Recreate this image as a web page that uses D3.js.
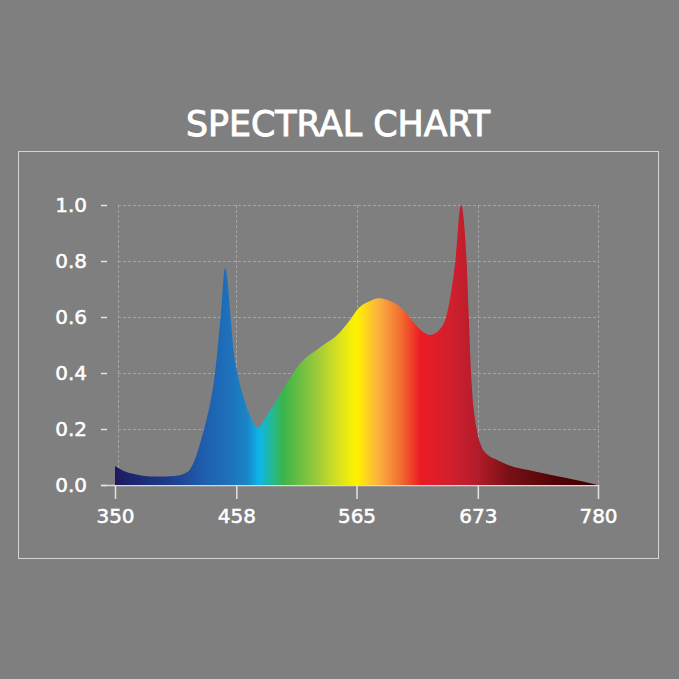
<!DOCTYPE html>
<html>
<head>
<meta charset="utf-8">
<script src="https://cdn.jsdelivr.net/npm/d3@7"></script>
<style>
  html, body { margin: 0; padding: 0; background: #807f7f; }
  svg { display: block; }
</style>
</head>
<body>
<div id="chart"></div>
<script>
// spectrum (nm, relative intensity)
const wavelengths = [350, 359, 371, 386, 403, 415, 421, 428, 431, 439, 444, 448, 453, 455, 459, 464, 470, 477,
  487, 502, 514, 532, 549, 558, 567, 576, 585, 596, 605, 614, 622, 631, 641, 646, 653, 658, 663, 665, 667,
  672, 676, 682, 690, 700, 724, 753, 780];
const intensity = [0.068, 0.048, 0.036, 0.030, 0.032, 0.048, 0.09, 0.18, 0.226, 0.40, 0.60, 0.775, 0.60, 0.50,
  0.40, 0.32, 0.25, 0.205, 0.26, 0.357, 0.43, 0.49, 0.54, 0.583, 0.632, 0.655, 0.667, 0.655, 0.632, 0.59,
  0.554, 0.536, 0.565, 0.62, 0.80, 1.0, 0.80, 0.60, 0.40, 0.20, 0.14, 0.107, 0.09, 0.071, 0.048, 0.024, 0];

const xTicks = [350, 458, 565, 673, 780];
const yTicks = [0, 0.2, 0.4, 0.6, 0.8, 1.0];
const title = 'SPECTRAL CHART';

// colour of the fill along the wavelength axis
const gradientStops = [
  [350, '#1c1a60'], [400, '#1d3f8e'], [430, '#1e5fae'], [455, '#1d74bd'], [468, '#1a86c8'],
  [478, '#0db6ec'], [488, '#20b8a0'], [500, '#3bb54a'], [525, '#8cc63f'], [548, '#d7e021'],
  [565, '#fff200'], [585, '#fbb040'], [605, '#f26b30'], [622, '#ec1c24'], [650, '#d01f2e'],
  [672, '#b41c2b'], [700, '#7a1015'], [740, '#520508'], [780, '#3a0000']
];

const width = 679;
const height = 679;
const plot = { left: 115, right: 598, top: 205, bottom: 485 };

const svg = d3.select('#chart')
  .append('svg')
  .attr('width', width)
  .attr('height', height);

svg.append('rect')
  .attr('width', width)
  .attr('height', height)
  .attr('fill', '#807f7f');

// frame
svg.append('rect')
  .attr('x', 18.5)
  .attr('y', 151.5)
  .attr('width', 640)
  .attr('height', 407)
  .attr('fill', 'none')
  .attr('stroke', '#d4d4d4')
  .attr('stroke-width', 1);

svg.append('text')
  .attr('x', 338)
  .attr('y', 136)
  .attr('text-anchor', 'middle')
  .attr('fill', '#ffffff')
  .attr('stroke', '#ffffff')
  .attr('stroke-width', 0.9)
  .attr('font-family', '"DejaVu Sans Condensed", "Liberation Sans Narrow", sans-serif')
  .attr('font-size', 36)
  .attr('textLength', 304)
  .attr('lengthAdjust', 'spacingAndGlyphs')
  .text(title);

const x = d3.scaleLinear([350, 780], [plot.left, plot.right]);
const y = d3.scaleLinear([0, 1], [plot.bottom, plot.top]);

// gridlines
const grid = svg.append('g')
  .attr('stroke', '#a5a5a5')
  .attr('stroke-width', 1)
  .attr('stroke-dasharray', '3,2');

grid.selectAll('line.h')
  .data(yTicks.filter((d) => d > 0))
  .join('line')
  .attr('class', 'h')
  .attr('x1', plot.left + 3)
  .attr('x2', plot.right + 1)
  .attr('y1', (d) => Math.round(y(d)) + 0.5)
  .attr('y2', (d) => Math.round(y(d)) + 0.5);

grid.selectAll('line.v')
  .data(xTicks)
  .join('line')
  .attr('class', 'v')
  .attr('x1', (d) => Math.round(x(d)) + 0.5 + (d === 350 ? 3 : 0))
  .attr('x2', (d) => Math.round(x(d)) + 0.5 + (d === 350 ? 3 : 0))
  .attr('y1', plot.top)
  .attr('y2', plot.bottom);

// gradient
const defs = svg.append('defs');
const grad = defs.append('linearGradient')
  .attr('id', 'spectrum')
  .attr('gradientUnits', 'userSpaceOnUse')
  .attr('x1', x(350))
  .attr('x2', x(780))
  .attr('y1', 0)
  .attr('y2', 0);

grad.selectAll('stop')
  .data(gradientStops)
  .join('stop')
  .attr('offset', (d) => (d[0] - 350) / (780 - 350))
  .attr('stop-color', (d) => d[1]);

const points = wavelengths.map((w, i) => [w, intensity[i]]);

const area = d3.area()
  .x((d) => x(d[0]))
  .y0(y(0))
  .y1((d) => y(d[1]))
  .curve(d3.curveMonotoneX);

// x axis baseline
svg.append('line')
  .attr('x1', 101)
  .attr('x2', plot.right + 1)
  .attr('y1', plot.bottom + 0.5)
  .attr('y2', plot.bottom + 0.5)
  .attr('stroke', '#d8d8d8')
  .attr('stroke-width', 1.5);

svg.append('path')
  .datum(points)
  .attr('fill', 'url(#spectrum)')
  .attr('d', area);

const labelStyle = (sel) => sel
  .attr('fill', '#ffffff')
  .attr('stroke', '#ffffff')
  .attr('stroke-width', 0.5)
  .attr('font-family', '"DejaVu Sans", sans-serif')
  .attr('font-size', 20);

// y axis
const yAxis = svg.append('g')
  .attr('transform', 'translate(107,0)')
  .call(d3.axisLeft(y).tickValues(yTicks).tickFormat(d3.format('.1f')).tickSize(6).tickPadding(14))
  .call((g) => g.select('.domain').remove());

yAxis.selectAll('.tick line')
  .attr('stroke', '#e2e2e2')
  .attr('stroke-width', 1.5);

yAxis.selectAll('.tick text').call(labelStyle);

// x axis
const xAxis = svg.append('g')
  .attr('transform', `translate(0,${plot.bottom})`)
  .call(d3.axisBottom(x).tickValues(xTicks).tickFormat(d3.format('d')).tickSize(14).tickPadding(10))
  .call((g) => g.select('.domain').remove());

xAxis.selectAll('.tick line')
  .attr('stroke', '#e2e2e2')
  .attr('stroke-width', 1.5);

xAxis.selectAll('.tick text').call(labelStyle);
</script>
</body>
</html>
